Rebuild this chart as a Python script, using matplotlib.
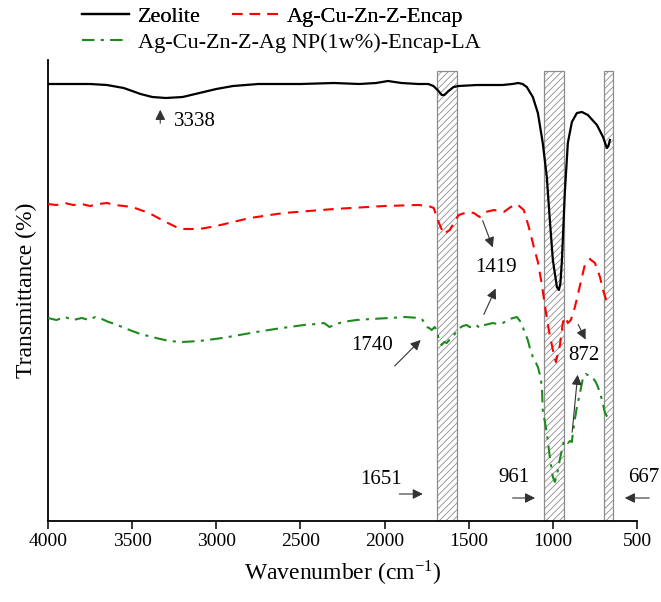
import matplotlib
matplotlib.use('Agg')
import matplotlib.pyplot as plt
from matplotlib.lines import Line2D

plt.rcParams['font.family'] = ['Liberation Serif', 'DejaVu Serif']
plt.rcParams['mathtext.fontset'] = 'stix'
plt.rcParams['hatch.linewidth'] = 0.6

# spectra (wavenumber, transmittance offset, arbitrary units)
zeo_wn = [4000, 3750, 3650, 3550, 3450, 3380, 3300, 3200, 3100, 3000, 2900, 2750, 2500, 2300,
          2150, 2050, 1980, 1900, 1800, 1740, 1710, 1685, 1660, 1645, 1620, 1590, 1560, 1450,
          1300, 1240, 1205, 1180, 1155, 1119, 1089, 1060, 1036, 1018, 1000, 976, 964, 955, 946,
          929, 911, 887, 857, 827, 792, 738, 702, 679, 670, 661]
zeo_t = [437, 437, 436, 433, 427, 424, 423, 424, 428, 432, 435, 437, 437, 438,
         437, 438, 440, 438, 437, 437, 435, 431, 426, 426, 430, 434, 435, 436,
         436, 437, 438, 437, 434, 424, 408, 378, 344, 301, 261, 234, 231, 238, 261,
         328, 378, 399, 408, 409, 406, 396, 384, 373, 375, 381]

enc_wn = [4000, 3950, 3900, 3850, 3800, 3750, 3700, 3650, 3600, 3500, 3400, 3300, 3214, 3100,
          3000, 2800, 2600, 2300, 2000, 1800, 1738, 1708, 1679, 1649, 1613, 1560, 1506, 1470,
          1435, 1399, 1351, 1292, 1250, 1214, 1173, 1143, 1113, 1089, 1065, 1048, 1024, 1000,
          982, 958, 940, 925, 911, 893, 869, 845, 827, 810, 780, 750, 720, 702, 679, 661]
enc_t = [317, 316, 318, 316, 317, 315, 317, 318, 316, 314, 308, 299, 292, 292,
         295, 303, 308, 312, 315, 316, 315, 313, 299, 287, 291, 306, 309, 308,
         304, 309, 311, 309, 314, 317, 311, 294, 274, 259, 236, 216, 191, 171,
         159, 176, 199, 204, 198, 201, 214, 231, 244, 256, 262, 258, 244, 231, 219, 223]

la_wn = [4000, 3950, 3900, 3850, 3800, 3756, 3720, 3680, 3640, 3600, 3560, 3500, 3450, 3357,
         3280, 3202, 3100, 2964, 2862, 2762, 2650, 2565, 2480, 2405, 2360, 2327, 2300, 2250,
         2167, 2080, 1970, 1880, 1792, 1774, 1750, 1735, 1720, 1702, 1690, 1675, 1661, 1645,
         1631, 1615, 1595, 1575, 1554, 1535, 1512, 1495, 1476, 1455, 1435, 1420, 1405, 1380,
         1357, 1330, 1298, 1275, 1256, 1235, 1214, 1195, 1179, 1165, 1149, 1135, 1119, 1100,
         1089, 1075, 1065, 1060, 1048, 1036, 1018, 1000, 988, 978, 970, 958, 946, 937, 929,
         920, 911, 898, 887, 881, 869, 857, 839, 821, 805, 792, 775, 762, 745, 732, 720, 708,
         690, 673, 665]
la_t = [203, 201, 204, 201, 203, 201, 204, 202, 199, 197, 194, 190, 187, 183,
        180, 179, 180, 183, 186, 189, 192, 194, 196, 197, 198, 194, 196, 199,
        201, 202, 203, 204, 203, 201, 194, 193, 191, 194, 190, 180, 176, 179,
        178, 181, 184, 189, 193, 195, 196, 194, 194, 196, 193, 195, 196, 197,
        198, 197, 198, 200, 202, 203, 204, 200, 194, 188, 181, 172, 164, 158,
        154, 145, 134, 111, 100, 88, 64, 44, 39, 45, 51, 62, 71, 78, 81,
        80, 78, 80, 79, 88, 102, 114, 128, 143, 147, 146, 145, 143, 139, 134, 128, 121,
        108, 103, 106]

# shaded bands (high, low wavenumber)
bands = [(1690, 1571), (1054, 935), (696, 643)]
band_top = 450

red_ls = (0, (5, 3.5))
green_ls = (0, (6, 3, 1.5, 3))

fig = plt.figure(figsize=(6.61, 6.02), dpi=100)
ax = fig.add_axes([48 / 661, 1 - 521 / 602, (637 - 48) / 661, (521 - 60) / 602])

for hi, lo in bands:
    ax.bar((hi + lo) / 2, band_top, width=hi - lo, bottom=0, color='white',
           edgecolor='#8c8c8c', hatch='/////', linewidth=0.9, zorder=1)

ax.plot(zeo_wn, zeo_t, color='black', lw=1.6, zorder=3)
ax.plot(enc_wn, enc_t, color='red', lw=1.5, ls=red_ls, zorder=3)
ax.plot(la_wn, la_t, color='#1e8a1e', lw=1.5, ls=green_ls, zorder=3)

ax.set_xlim(4000, 500)
ax.set_ylim(0, 461)
ax.set_xticks([4000, 3500, 3000, 2500, 2000, 1500, 1000, 500])
ax.set_yticks([])
ax.tick_params(axis='x', labelsize=14, length=6, width=1.1, direction='out', pad=3)
for s in ['top', 'right']:
    ax.spines[s].set_visible(False)
for s in ['left', 'bottom']:
    ax.spines[s].set_linewidth(1.3)
ax.set_xlabel(r'Wavenumber (cm$^{\mathregular{-1}}$)', fontsize=17, labelpad=6)
ax.set_ylabel('Transmittance (%)', fontsize=17, labelpad=8)

arrow = dict(arrowstyle='-|>', color='#333333', lw=0.8, mutation_scale=15)
fs = 15

ax.text(3250, 399, '3338', fontsize=fs, ha='left', va='center')
ax.annotate('', xy=(3333, 414), xytext=(3333, 395), arrowprops=arrow)

ax.text(2024, 41, '1651', fontsize=fs, ha='center', va='center')
ax.annotate('', xy=(1756, 27), xytext=(1929, 27), arrowprops=arrow)

ax.text(1232, 43, '961', fontsize=fs, ha='center', va='center')
ax.annotate('', xy=(1089, 23), xytext=(1256, 23), arrowprops=arrow)

ax.text(458, 43, '667', fontsize=fs, ha='center', va='center', clip_on=False)
ax.annotate('', xy=(589, 23), xytext=(411, 23), arrowprops=arrow, annotation_clip=False)

ax.text(2077, 176, '1740', fontsize=fs, ha='center', va='center')
ax.annotate('', xy=(1774, 183), xytext=(1952, 153), arrowprops=arrow)

ax.text(1339, 253, '1419', fontsize=fs, ha='center', va='center')
ax.annotate('', xy=(1351, 271), xytext=(1423, 303), arrowprops=arrow)
ax.annotate('', xy=(1333, 235), xytext=(1417, 204), arrowprops=arrow)

ax.text(816, 166, '872', fontsize=fs, ha='center', va='center')
ax.annotate('', xy=(798, 179), xytext=(857, 199), arrowprops=arrow)
ax.annotate('', xy=(851, 149), xytext=(887, 86), arrowprops=arrow)

h1 = Line2D([], [], color='black', lw=1.6)
h2 = Line2D([], [], color='red', lw=1.5, ls=red_ls)
h3 = Line2D([], [], color='#1e8a1e', lw=1.5, ls=green_ls)
leg1 = fig.legend([h1, h2], ['Zeolite', 'Ag-Cu-Zn-Z-Encap'], ncol=2, loc='upper left',
                  bbox_to_anchor=(82 / 661, 1 - 6 / 602), frameon=False, fontsize=16,
                  borderpad=0, borderaxespad=0, handlelength=2.1, handletextpad=0.4,
                  columnspacing=1.4)
fig.add_artist(leg1)
fig.legend([h3], ['Ag-Cu-Zn-Z-Ag NP(1w%)-Encap-LA'], loc='upper left',
           bbox_to_anchor=(82 / 661, 1 - 32 / 602), frameon=False, fontsize=16,
           borderpad=0, borderaxespad=0, handlelength=2.1, handletextpad=0.4)

fig.savefig('out.png', dpi=100)
